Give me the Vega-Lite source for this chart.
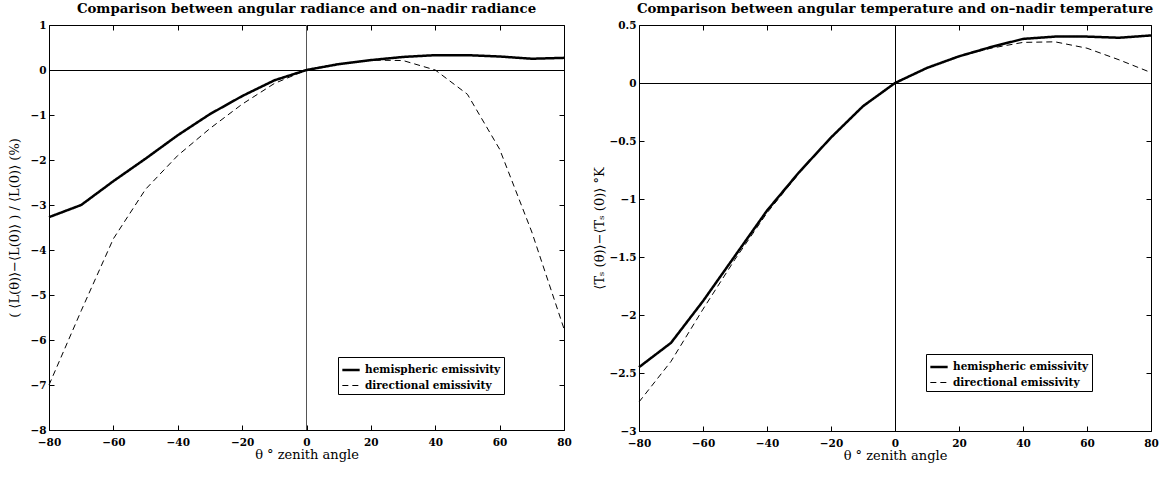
{
  "$schema": "https://vega.github.io/schema/vega-lite/v6.json",
  "padding": {"left": 8, "top": 1, "right": 5, "bottom": 5},
  "background": "white",
  "bounds": "flush",
  "spacing": 75,
  "config": {
    "view": {"stroke": "black", "strokeWidth": 1},
    "font": "DejaVu Serif",
    "axis": {
      "domain": false, "grid": false, "tickColor": "black", "tickSize": -5, "tickWidth": 1,
      "labelFont": "DejaVu Serif", "labelFontWeight": "bold", "labelFontSize": 10.5, "labelColor": "black",
      "labelPadding": 8, "labelFlush": false,
      "titleFont": "DejaVu Serif", "titleFontWeight": "normal", "titleFontSize": 13, "titleColor": "black"
    },
    "title": {"font": "DejaVu Serif", "fontWeight": "bold", "fontSize": 13.3, "color": "black", "offset": 5},
    "legend": {
      "orient": "none", "strokeColor": "black", "fillColor": "white", "padding": 3,
      "labelFont": "DejaVu Serif", "labelFontWeight": "bold", "labelFontSize": 10.5, "labelColor": "black",
      "symbolType": "stroke", "symbolSize": 300, "symbolStrokeColor": "black", "rowPadding": 0, "title": null
    }
  },
  "datasets": {
    "radiance": [
      {"theta": -80, "series": "hemispheric emissivity", "value": -3.27},
      {"theta": -70, "series": "hemispheric emissivity", "value": -3.0},
      {"theta": -60, "series": "hemispheric emissivity", "value": -2.47},
      {"theta": -50, "series": "hemispheric emissivity", "value": -1.97},
      {"theta": -40, "series": "hemispheric emissivity", "value": -1.45},
      {"theta": -30, "series": "hemispheric emissivity", "value": -0.98},
      {"theta": -20, "series": "hemispheric emissivity", "value": -0.58},
      {"theta": -10, "series": "hemispheric emissivity", "value": -0.23},
      {"theta": 0, "series": "hemispheric emissivity", "value": 0},
      {"theta": 10, "series": "hemispheric emissivity", "value": 0.13},
      {"theta": 20, "series": "hemispheric emissivity", "value": 0.22},
      {"theta": 30, "series": "hemispheric emissivity", "value": 0.29},
      {"theta": 40, "series": "hemispheric emissivity", "value": 0.33},
      {"theta": 50, "series": "hemispheric emissivity", "value": 0.33},
      {"theta": 60, "series": "hemispheric emissivity", "value": 0.3},
      {"theta": 70, "series": "hemispheric emissivity", "value": 0.25},
      {"theta": 80, "series": "hemispheric emissivity", "value": 0.27},
      {"theta": -80, "series": "directional emissivity", "value": -7.0},
      {"theta": -70, "series": "directional emissivity", "value": -5.35},
      {"theta": -60, "series": "directional emissivity", "value": -3.75},
      {"theta": -50, "series": "directional emissivity", "value": -2.65},
      {"theta": -40, "series": "directional emissivity", "value": -1.9},
      {"theta": -30, "series": "directional emissivity", "value": -1.3},
      {"theta": -20, "series": "directional emissivity", "value": -0.76},
      {"theta": -10, "series": "directional emissivity", "value": -0.3},
      {"theta": 0, "series": "directional emissivity", "value": 0},
      {"theta": 10, "series": "directional emissivity", "value": 0.14},
      {"theta": 20, "series": "directional emissivity", "value": 0.22},
      {"theta": 30, "series": "directional emissivity", "value": 0.21},
      {"theta": 40, "series": "directional emissivity", "value": 0.0},
      {"theta": 50, "series": "directional emissivity", "value": -0.54},
      {"theta": 60, "series": "directional emissivity", "value": -1.76},
      {"theta": 70, "series": "directional emissivity", "value": -3.6},
      {"theta": 80, "series": "directional emissivity", "value": -5.75}
    ],
    "temperature": [
      {"theta": -80, "series": "hemispheric emissivity", "value": -2.45},
      {"theta": -70, "series": "hemispheric emissivity", "value": -2.24},
      {"theta": -60, "series": "hemispheric emissivity", "value": -1.88},
      {"theta": -50, "series": "hemispheric emissivity", "value": -1.49},
      {"theta": -40, "series": "hemispheric emissivity", "value": -1.1},
      {"theta": -30, "series": "hemispheric emissivity", "value": -0.77},
      {"theta": -20, "series": "hemispheric emissivity", "value": -0.47},
      {"theta": -10, "series": "hemispheric emissivity", "value": -0.2},
      {"theta": 0, "series": "hemispheric emissivity", "value": 0},
      {"theta": 10, "series": "hemispheric emissivity", "value": 0.13},
      {"theta": 20, "series": "hemispheric emissivity", "value": 0.23},
      {"theta": 30, "series": "hemispheric emissivity", "value": 0.31},
      {"theta": 40, "series": "hemispheric emissivity", "value": 0.38},
      {"theta": 50, "series": "hemispheric emissivity", "value": 0.4},
      {"theta": 60, "series": "hemispheric emissivity", "value": 0.4},
      {"theta": 70, "series": "hemispheric emissivity", "value": 0.39},
      {"theta": 80, "series": "hemispheric emissivity", "value": 0.41},
      {"theta": -80, "series": "directional emissivity", "value": -2.75},
      {"theta": -70, "series": "directional emissivity", "value": -2.4},
      {"theta": -60, "series": "directional emissivity", "value": -1.95},
      {"theta": -50, "series": "directional emissivity", "value": -1.52},
      {"theta": -40, "series": "directional emissivity", "value": -1.12},
      {"theta": -30, "series": "directional emissivity", "value": -0.78},
      {"theta": -20, "series": "directional emissivity", "value": -0.47},
      {"theta": -10, "series": "directional emissivity", "value": -0.2},
      {"theta": 0, "series": "directional emissivity", "value": 0},
      {"theta": 10, "series": "directional emissivity", "value": 0.13},
      {"theta": 20, "series": "directional emissivity", "value": 0.23},
      {"theta": 30, "series": "directional emissivity", "value": 0.3},
      {"theta": 40, "series": "directional emissivity", "value": 0.35},
      {"theta": 50, "series": "directional emissivity", "value": 0.355},
      {"theta": 60, "series": "directional emissivity", "value": 0.3},
      {"theta": 70, "series": "directional emissivity", "value": 0.2},
      {"theta": 80, "series": "directional emissivity", "value": 0.09}
    ]
  },
  "resolve": {"legend": {"strokeDash": "independent", "strokeWidth": "independent"}},
  "hconcat": [
    {
      "width": 515, "height": 405,
      "title": "Comparison between angular radiance and on–nadir radiance",
      "data": {"name": "radiance"},
      "layer": [
        {
          "mark": {"type": "rule", "color": "black", "strokeWidth": 1, "yOffset": 0.5},
          "encoding": {"y": {"datum": 0, "type": "quantitative", "axis": {"orient": "right", "labels": false, "title": null, "values": [-8,-7,-6,-5,-4,-3,-2,-1,0,1]}}}
        },
        {
          "mark": {"type": "rule", "color": "#555", "strokeWidth": 1},
          "encoding": {"x": {"datum": 0, "type": "quantitative", "axis": {"orient": "top", "labels": false, "title": null, "values": [-80,-60,-40,-20,0,20,40,60,80]}}}
        },
        {
          "mark": {"type": "line", "color": "black", "strokeCap": "butt"},
          "encoding": {
            "x": {"field": "theta", "type": "quantitative", "scale": {"domain": [-80, 80], "nice": false}, "axis": {"orient": "bottom", "title": "θ ° zenith angle", "values": [-80,-60,-40,-20,0,20,40,60,80], "labelPadding": 12, "titlePadding": 1}},
            "y": {"field": "value", "type": "quantitative", "scale": {"domain": [-8, 1], "nice": false}, "axis": {"orient": "left", "title": "( ⟨L(θ)⟩−⟨L(0)⟩ ) / ⟨L(0)⟩ (%)", "values": [-8,-7,-6,-5,-4,-3,-2,-1,0,1], "titlePadding": 8}},
            "strokeDash": {"field": "series", "type": "nominal", "sort": ["hemispheric emissivity", "directional emissivity"], "scale": {"domain": ["hemispheric emissivity", "directional emissivity"], "range": [[1, 0], [6, 4]]}, "legend": {"legendX": 289, "legendY": 332}},
            "strokeWidth": {"field": "series", "type": "nominal", "sort": ["hemispheric emissivity", "directional emissivity"], "scale": {"domain": ["hemispheric emissivity", "directional emissivity"], "range": [2.5, 1]}, "legend": {"legendX": 289, "legendY": 332}}
          }
        }
      ]
    },
    {
      "width": 512, "height": 406,
      "title": "Comparison between angular temperature and on–nadir temperature",
      "data": {"name": "temperature"},
      "layer": [
        {
          "mark": {"type": "rule", "color": "black", "strokeWidth": 1, "yOffset": 0.5},
          "encoding": {"y": {"datum": 0, "type": "quantitative", "axis": {"orient": "right", "labels": false, "title": null, "values": [-3,-2.5,-2,-1.5,-1,-0.5,0,0.5]}}}
        },
        {
          "mark": {"type": "rule", "color": "black", "strokeWidth": 1, "xOffset": 0.5},
          "encoding": {"x": {"datum": 0, "type": "quantitative", "axis": {"orient": "top", "labels": false, "title": null, "values": [-80,-60,-40,-20,0,20,40,60,80]}}}
        },
        {
          "mark": {"type": "line", "color": "black", "strokeCap": "butt"},
          "encoding": {
            "x": {"field": "theta", "type": "quantitative", "scale": {"domain": [-80, 80], "nice": false}, "axis": {"orient": "bottom", "title": "θ ° zenith angle", "values": [-80,-60,-40,-20,0,20,40,60,80], "labelPadding": 12, "titlePadding": 1}},
            "y": {"field": "value", "type": "quantitative", "scale": {"domain": [-3, 0.5], "nice": false}, "axis": {"orient": "left", "title": "⟨Tₛ (θ)⟩−⟨Tₛ (0)⟩ °K", "format": ".1~f", "values": [-3,-2.5,-2,-1.5,-1,-0.5,0,0.5], "titlePadding": 2}},
            "strokeDash": {"field": "series", "type": "nominal", "sort": ["hemispheric emissivity", "directional emissivity"], "scale": {"domain": ["hemispheric emissivity", "directional emissivity"], "range": [[1, 0], [6, 4]]}, "legend": {"legendX": 287, "legendY": 329}},
            "strokeWidth": {"field": "series", "type": "nominal", "sort": ["hemispheric emissivity", "directional emissivity"], "scale": {"domain": ["hemispheric emissivity", "directional emissivity"], "range": [2.5, 1]}, "legend": {"legendX": 287, "legendY": 329}}
          }
        }
      ]
    }
  ]
}
